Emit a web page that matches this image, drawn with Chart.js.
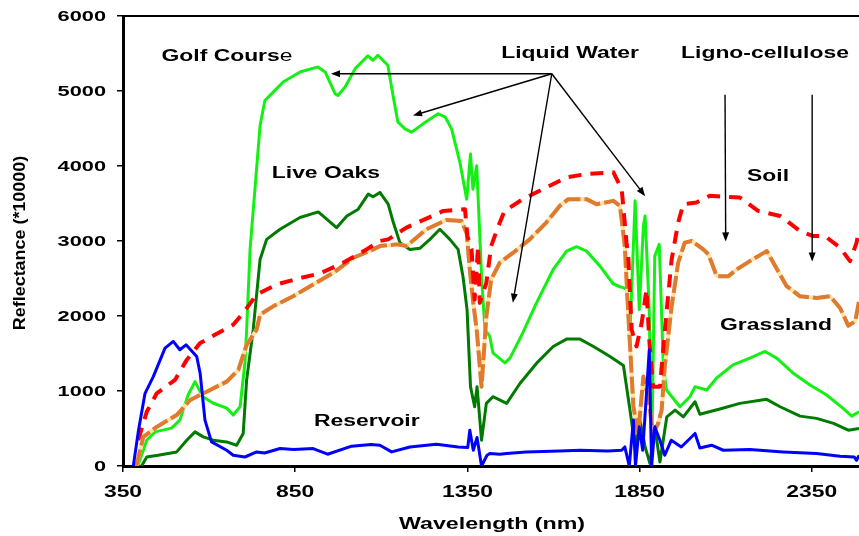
<!DOCTYPE html>
<html>
<head>
<meta charset="utf-8">
<title>Reflectance spectra</title>
<script src="https://cdn.jsdelivr.net/npm/chart.js@4.4.1/dist/chart.umd.min.js"></script>
<style>
  body { margin: 0; background: #fff; }
  canvas { display: block; }
</style>
</head>
<body>
<canvas id="spectra" width="859" height="536"></canvas>
<script>
// spectra: wavelength (nm) and reflectance (*10000) per cover type
const golfWl = [393, 419, 443, 491, 515, 539, 559, 582, 611, 651, 670, 690, 704, 709, 719, 748, 762, 791, 815, 864, 916, 937, 966, 974, 995, 1024, 1061, 1076, 1090, 1119, 1134, 1148, 1169, 1188, 1221, 1265, 1285, 1304, 1328, 1348, 1359, 1366, 1377, 1392, 1401, 1415, 1424, 1459, 1474, 1511, 1551, 1599, 1638, 1667, 1696, 1735, 1773, 1793, 1802, 1812, 1822, 1837, 1849, 1861, 1866, 1878, 1885, 1894, 1907, 1919, 1928, 1967, 1996, 2011, 2045, 2073, 2121, 2170, 2214, 2248, 2296, 2345, 2393, 2441, 2466, 2487];
const golfVal = [0, 343, 455, 505, 612, 947, 1125, 924, 840, 772, 679, 790, 1375, 1817, 2890, 4540, 4874, 5008, 5120, 5254, 5321, 5254, 4963, 4941, 5053, 5298, 5468, 5410, 5477, 5343, 4941, 4589, 4495, 4451, 4562, 4696, 4656, 4495, 4053, 3558, 4160, 3690, 4004, 2446, 1817, 1727, 1509, 1375, 1442, 1777, 2178, 2620, 2865, 2924, 2865, 2665, 2430, 2390, 2379, 2353, 1777, 3535, 2085, 3200, 3334, 2085, 120, 2798, 2955, 1325, 1013, 790, 924, 1058, 1013, 1170, 1348, 1438, 1527, 1438, 1237, 1081, 947, 769, 665, 723];

const oakWl = [404, 419, 452, 506, 535, 559, 583, 612, 651, 680, 699, 709, 728, 748, 767, 806, 864, 917, 970, 1000, 1033, 1062, 1076, 1096, 1120, 1135, 1154, 1183, 1212, 1241, 1270, 1299, 1323, 1337, 1349, 1359, 1371, 1378, 1391, 1405, 1424, 1464, 1503, 1551, 1599, 1638, 1677, 1716, 1764, 1803, 1822, 1837, 1851, 1866, 1880, 1894, 1909, 1929, 1953, 1977, 2011, 2025, 2083, 2141, 2219, 2258, 2316, 2364, 2413, 2456, 2487];
const oakVal = [0, 120, 143, 188, 344, 455, 388, 344, 321, 277, 434, 1148, 1817, 2754, 3022, 3156, 3313, 3388, 3178, 3334, 3424, 3625, 3590, 3648, 3491, 3246, 2978, 2888, 2902, 3022, 3156, 3022, 2888, 2531, 2085, 1058, 790, 1058, 344, 835, 924, 835, 1103, 1371, 1594, 1692, 1692, 1594, 1460, 1340, 746, 254, 612, 254, 32, 522, 54, 656, 746, 656, 857, 690, 760, 835, 889, 790, 665, 635, 568, 478, 501];

const resWl = [380, 395, 414, 438, 472, 496, 515, 533, 564, 574, 588, 607, 651, 670, 704, 738, 761, 806, 845, 902, 944, 1014, 1070, 1096, 1130, 1183, 1260, 1323, 1351, 1357, 1367, 1378, 1391, 1407, 1415, 1444, 1464, 1520, 1618, 1677, 1758, 1798, 1807, 1820, 1832, 1838, 1849, 1859, 1870, 1878, 1885, 1894, 1909, 1923, 1942, 1971, 2011, 2025, 2059, 2093, 2170, 2267, 2364, 2432, 2473, 2480, 2487];
const resVal = [0, 478, 969, 1192, 1572, 1661, 1550, 1616, 1460, 1237, 612, 321, 210, 143, 120, 188, 174, 233, 219, 233, 157, 264, 286, 277, 188, 254, 290, 254, 246, 478, 210, 380, 0, 143, 166, 157, 166, 188, 201, 210, 201, 210, 254, 0, 612, 0, 522, 210, 969, 1549, 0, 522, 344, 143, 344, 254, 434, 240, 277, 210, 219, 188, 166, 130, 120, 76, 143];

const soilWl = [394, 419, 448, 501, 535, 574, 617, 670, 699, 738, 796, 859, 922, 989, 1057, 1096, 1120, 1173, 1280, 1343, 1350, 1362, 1371, 1381, 1386, 1405, 1419, 1438, 1458, 1511, 1579, 1638, 1696, 1774, 1798, 1812, 1817, 1827, 1841, 1856, 1870, 1878, 1889, 1909, 1928, 1943, 1962, 1977, 2015, 2054, 2141, 2194, 2258, 2316, 2354, 2388, 2432, 2461, 2480, 2487];
const soilVal = [344, 723, 969, 1148, 1415, 1639, 1750, 1884, 2040, 2286, 2420, 2500, 2567, 2710, 2888, 3000, 3022, 3178, 3401, 3424, 3066, 2888, 2219, 2933, 2175, 2442, 2933, 3178, 3401, 3558, 3714, 3848, 3893, 3915, 3692, 2978, 2798, 1817, 1594, 1906, 2353, 1683, 1058, 1058, 2040, 2754, 3246, 3491, 3513, 3602, 3580, 3401, 3334, 3133, 3066, 3066, 2911, 2732, 2978, 3156];

const grassWl = [389, 409, 448, 506, 545, 593, 651, 685, 709, 738, 748, 786, 844, 902, 961, 1019, 1077, 1096, 1145, 1173, 1231, 1289, 1333, 1348, 1357, 1367, 1377, 1391, 1405, 1419, 1444, 1483, 1531, 1579, 1618, 1643, 1696, 1725, 1774, 1793, 1807, 1817, 1832, 1846, 1861, 1875, 1889, 1904, 1914, 1923, 1943, 1962, 1981, 2001, 2015, 2035, 2050, 2074, 2108, 2132, 2170, 2219, 2233, 2277, 2316, 2364, 2403, 2432, 2456, 2476, 2487];
const grassVal = [0, 388, 522, 679, 880, 991, 1125, 1281, 1616, 1817, 2018, 2129, 2263, 2420, 2576, 2777, 2888, 2933, 2955, 2933, 3156, 3280, 3267, 3100, 2620, 2175, 1817, 1058, 1995, 2486, 2710, 2844, 3022, 3246, 3468, 3558, 3558, 3491, 3535, 3468, 2933, 2040, 790, 434, 1192, 924, 434, 568, 746, 1325, 2129, 2710, 2978, 3000, 2955, 2888, 2821, 2531, 2531, 2620, 2732, 2865, 2754, 2397, 2263, 2241, 2263, 2107, 1871, 1929, 2196];

const xTicks = [350, 850, 1350, 1850, 2350];
const yTicks = [0, 1000, 2000, 3000, 4000, 5000, 6000];

const FONT = '"Liberation Sans", Arial, sans-serif';
const WIDE = 1.43;

function pts(wl, val) {
    return wl.map((w, i) => ({ x: w, y: val[i] }));
}

// draw horizontally widened text; parts = [[text, weight], ...]
function wideText(ctx, parts, x, y, size, align, sx) {
    sx = sx || WIDE;
    ctx.save();
    ctx.textBaseline = 'middle';
    ctx.textAlign = 'left';
    ctx.fillStyle = '#000';
    let total = 0;
    const widths = parts.map(p => {
        ctx.font = p[1] + ' ' + size + 'px ' + FONT;
        const w = ctx.measureText(p[0]).width;
        total += w;
        return w;
    });
    let x0 = x;
    if (align === 'center') x0 = x - total * sx / 2;
    else if (align === 'right') x0 = x - total * sx;
    ctx.translate(x0, y);
    ctx.scale(sx, 1);
    let cx = 0;
    parts.forEach((p, i) => {
        ctx.font = p[1] + ' ' + size + 'px ' + FONT;
        ctx.fillText(p[0], cx, 0);
        cx += widths[i];
    });
    ctx.restore();
}

function arrow(ctx, x1, y1, x2, y2) {
    const a = Math.atan2(y2 - y1, x2 - x1);
    const len = 9, half = 3.5;
    ctx.beginPath();
    ctx.moveTo(x1, y1);
    ctx.lineTo(x2 - Math.cos(a) * len * 0.8, y2 - Math.sin(a) * len * 0.8);
    ctx.stroke();
    ctx.beginPath();
    ctx.moveTo(x2, y2);
    ctx.lineTo(x2 - Math.cos(a) * len - Math.sin(a) * half, y2 - Math.sin(a) * len + Math.cos(a) * half);
    ctx.lineTo(x2 - Math.cos(a) * len + Math.sin(a) * half, y2 - Math.sin(a) * len - Math.cos(a) * half);
    ctx.closePath();
    ctx.fill();
}

// label positions in data units (wavelength, reflectance)
const notes = [
    { parts: [['Golf Cours', 'bold'], ['e', 'normal']], x: 652, y: 5460 },
    { parts: [['Liquid Water', 'bold']], x: 1648, y: 5500 },
    { parts: [['Ligno-cellulose', 'bold']], x: 2214, y: 5500 },
    { parts: [['Live Oaks', 'bold']], x: 939, y: 3895 },
    { parts: [['Soil', 'bold']], x: 2223, y: 3855 },
    { parts: [['Grassland', 'bold']], x: 2246, y: 1875 },
    { parts: [['Reservoir', 'bold']], x: 1058, y: 590 }
];
const waterFrom = [1595, 5230];
const waterTo = [[954, 5230], [1192, 4672], [1482, 2178], [1866, 3598]];
const ligninArrows = [[2098, 4950, 2100, 2995], [2351, 4950, 2351, 2727]];

const decorations = {
    id: 'decorations',
    afterDraw(chart) {
        const ctx = chart.ctx;
        const xs = chart.scales.x, ys = chart.scales.y;
        const area = chart.chartArea;
        const px = v => xs.getPixelForValue(v);
        const py = v => ys.getPixelForValue(v);

        // top frame line
        ctx.save();
        ctx.strokeStyle = '#000';
        ctx.lineWidth = 2;
        ctx.beginPath();
        ctx.moveTo(area.left, area.top);
        ctx.lineTo(area.right, area.top);
        ctx.stroke();
        ctx.restore();

        // tick labels
        yTicks.forEach(v => wideText(ctx, [[String(v), 'bold']], 106, py(v) + 1, 15, 'right', 1.45));
        xTicks.forEach(v => wideText(ctx, [[String(v), 'bold']], px(v), 493, 16, 'center', 1.43));

        // axis titles
        wideText(ctx, [['Wavelength (nm)', 'bold']], 492, 525, 16, 'center', 1.45);
        ctx.save();
        ctx.translate(21, 243);
        ctx.rotate(-Math.PI / 2);
        wideText(ctx, [['Reflectance (*10000)', 'bold']], 0, 0, 16, 'center', 1.12);
        ctx.restore();

        // annotations
        notes.forEach(n => wideText(ctx, n.parts, px(n.x), py(n.y), 16, 'center'));

        ctx.save();
        ctx.strokeStyle = '#000';
        ctx.fillStyle = '#000';
        ctx.lineWidth = 1.4;
        waterTo.forEach(t => arrow(ctx, px(waterFrom[0]), py(waterFrom[1]), px(t[0]), py(t[1])));
        ligninArrows.forEach(a => arrow(ctx, px(a[0]), py(a[1]), px(a[2]), py(a[3])));
        ctx.restore();
    }
};

const axisStyle = {
    ticks: { display: false },
    grid: { drawOnChartArea: false, drawTicks: true, tickLength: 6, color: '#000', lineWidth: 1.5 },
    border: { color: '#000', width: 3 }
};

new Chart(document.getElementById('spectra'), {
    type: 'line',
    data: {
        datasets: [
            { label: 'Reservoir', data: pts(resWl, resVal), borderColor: '#0000ff', borderWidth: 3 },
            { label: 'Soil', data: pts(soilWl, soilVal), borderColor: '#ff0000', borderWidth: 4, borderDash: [13, 9] },
            { label: 'Grassland', data: pts(grassWl, grassVal), borderColor: '#e07a2e', borderWidth: 4, borderDash: [17, 4] },
            { label: 'Grassland base', data: pts(grassWl, grassVal), borderColor: '#ffe3a6', borderWidth: 4 },
            { label: 'Golf Course', data: pts(golfWl, golfVal), borderColor: '#14f014', borderWidth: 3 },
            { label: 'Live Oaks', data: pts(oakWl, oakVal), borderColor: '#007a00', borderWidth: 3 }
        ]
    },
    options: {
        responsive: false,
        animation: false,
        elements: {
            point: { radius: 0 },
            line: { tension: 0, borderJoinStyle: 'round', fill: false }
        },
        layout: { padding: { left: 115, top: 16, right: 0, bottom: 62 } },
        plugins: {
            legend: { display: false },
            tooltip: { enabled: false }
        },
        scales: {
            x: {
                type: 'linear',
                min: 350,
                max: 2487,
                afterFit(scale) { scale.height = 8; },
                afterBuildTicks(scale) { scale.ticks = xTicks.map(v => ({ value: v })); },
                ...axisStyle
            },
            y: {
                min: 0,
                max: 6000,
                afterFit(scale) { scale.width = 8; },
                afterBuildTicks(scale) { scale.ticks = yTicks.map(v => ({ value: v })); },
                ...axisStyle
            }
        }
    },
    plugins: [decorations]
});
</script>
</body>
</html>
